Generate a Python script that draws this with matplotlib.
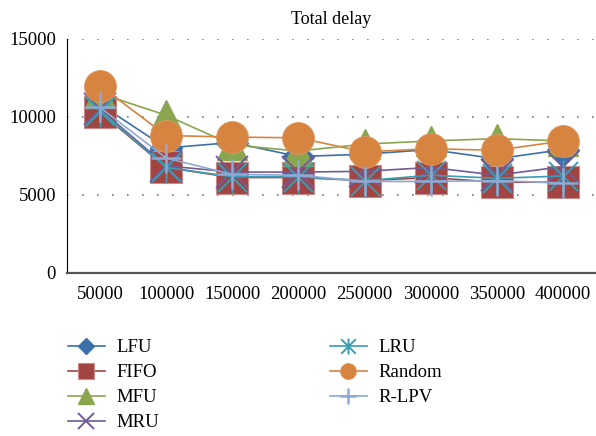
import numpy as np
import matplotlib
matplotlib.use('Agg')
import matplotlib.pyplot as plt
from matplotlib.path import Path

plt.rcParams['font.family'] = ['Liberation Serif', 'DejaVu Serif']

categories = ['50000', '100000', '150000', '200000', '250000', '300000', '350000', '400000']
lfu = [10800, 8000, 8350, 7450, 7600, 7900, 7300, 7900]
fifo = [10300, 6750, 6100, 6100, 5900, 6100, 5800, 5800]
mfu = [11500, 10100, 8200, 7800, 8250, 8450, 8600, 8450]
mru = [10500, 6850, 6450, 6450, 6500, 6750, 6250, 6800]
lru = [10400, 6750, 6150, 6150, 5900, 6250, 6050, 6200]
rnd = [12000, 8800, 8700, 8650, 7750, 7950, 7850, 8450]
rlpv = [10600, 7350, 6300, 6250, 5850, 5850, 5900, 5750]
yticks = [0, 5000, 10000, 15000]

# asterisk = X plus a vertical bar
ast = Path([(-0.5, -0.5), (0.5, 0.5), (-0.5, 0.5), (0.5, -0.5), (0, -0.55), (0, 0.55)],
           [Path.MOVETO, Path.LINETO] * 3)

series = [
    ('LFU', lfu, '#3d6fa8', 'D', 16.5, dict()),
    ('FIFO', fifo, '#a24442', 's', 23.5, dict(markeredgecolor='#c98a88', markeredgewidth=0.8)),
    ('MFU', mfu, '#8aa54f', '^', 22, dict()),
    ('MRU', mru, '#725b98', 'x', 23, dict(markeredgewidth=1.4)),
    ('LRU', lru, '#3a9db4', ast, 23, dict(markeredgewidth=1.4, markerfacecolor='none')),
    ('Random', rnd, '#d6843f', 'o', 23, dict(markeredgecolor='#dd9a62', markeredgewidth=0.6)),
    ('R-LPV', rlpv, '#8ea9d6', '+', 22, dict(markeredgewidth=1.8)),
]

fig = plt.figure(figsize=(5.96, 4.36), dpi=100)
ax = fig.add_axes([67/596, 163.5/436, 1 - 67/596, 233.5/436])

x = np.arange(len(categories))
for name, vals, col, mk, ms, kw in series:
    ax.plot(x, vals, color=col, lw=1.2, marker=mk, markersize=ms, label=name, **kw)

ax.set_xlim(-0.5, len(categories) - 0.5)
ax.set_ylim(0, 15000)
ax.set_yticks(yticks)
ax.set_xticks(x)
ax.set_xticklabels(categories)
ax.tick_params(axis='x', length=0, pad=10, labelsize=13.5)
ax.tick_params(axis='y', length=0, pad=8, labelsize=13.5)
ax.yaxis.grid(True, color='#777777', linestyle=(0, (1, 8)), lw=1.2)
ax.set_axisbelow(True)
for s in ['top', 'right']:
    ax.spines[s].set_visible(False)
ax.spines['left'].set_color('black')
ax.spines['left'].set_linewidth(0.8)
ax.spines['bottom'].set_color('#555555')
ax.spines['bottom'].set_linewidth(1.6)
ax.set_title('Total delay', fontsize=13, pad=11)

fig.legend(loc='upper left', bbox_to_anchor=(68/596, 1 - 339/436), ncol=2,
           frameon=False, fontsize=13.5, markerscale=0.5, handlelength=1.95,
           handletextpad=0.65, labelspacing=0.42, columnspacing=9.1,
           borderpad=0, borderaxespad=0)

fig.savefig('out.png', dpi=100)
